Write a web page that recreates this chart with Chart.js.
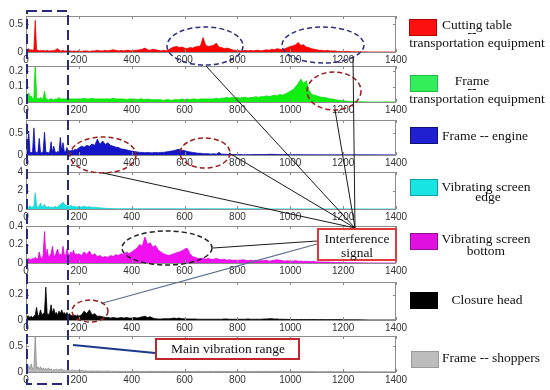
<!DOCTYPE html>
<html><head><meta charset="utf-8">
<script src="https://cdn.jsdelivr.net/npm/chart.js@4.4.0/dist/chart.umd.min.js"></script>
<style>
html,body{margin:0;padding:0;background:#fff;}
#wrap{position:relative;width:550px;height:390px;overflow:hidden;background:#fff;}
#wrap canvas{position:absolute;left:0;}
.t{position:absolute;font-family:'Liberation Serif','Times New Roman',serif;font-size:13.5px;color:#111;text-align:center;line-height:14px;white-space:nowrap;width:200px;}
.sw{position:absolute;box-sizing:border-box;}
.box{position:absolute;box-sizing:border-box;background:#fff;}
svg{position:absolute;left:0;top:0;}
</style>
</head><body>
<div id="wrap"></div>
<script>
// ---- frequency grid (Hz) ----
const freqLow = [0,5,10,15,20,25,30,35,40,45,50,55,60,65,70,75,80,85,90,95,100,105,110,115,120,125,130,135,140,145,150,155,160,165,170,175,180,185,190,195];
const freqHigh = [200,210,220,230,240,250,260,270,280,290,
 300,310,320,330,340,350,360,370,380,390,
 400,410,420,430,440,450,460,470,480,490,
 500,510,520,530,540,550,560,570,580,590,
 600,610,620,630,640,650,660,670,680,690,
 700,710,720,730,740,750,760,770,780,790,
 800,810,820,830,840,850,860,870,880,890,
 900,910,920,930,940,950,960,970,980,990,
 1000,1010,1020,1030,1040,1050,1060,1070,1080,1090,
 1100,1110,1120,1130,1140,1150,1160,1170,1180,1190,
 1200,1210,1220,1230,1240,1250,1300,1400];

const xTickValues = [0,200,400,600,800,1000,1200,1400];

// ---- series: Cutting table -- transportation equipment ----
const redLow = [0.05,0.04,0.06,0.03,0.04,0.03,0.05,0.57,0.04,0.03,
 0.02,0.03,0.02,0.03,0.02,0.02,0.03,0.02,0.02,0.02,
 0.03,0.02,0.03,0.05,0.06,0.03,0.02,0.02,0.03,0.02,
 0.02,0.02,0.01,0.02,0.02,0.01,0.02,0.02,0.01,0.02];
const redHigh = [0.02,0.01,0.02,0.02,0.01,0.02,0.02,0.03,0.02,0.02,
 0.03,0.02,0.03,0.04,0.03,0.02,0.03,0.02,0.03,0.03,
 0.02,0.03,0.03,0.04,0.05,0.07,0.04,0.03,0.05,0.04,
 0.03,0.02,0.03,0.02,0.04,0.07,0.09,0.1,0.08,0.09,
 0.07,0.06,0.08,0.07,0.09,0.1,0.11,0.26,0.12,0.1,
 0.11,0.12,0.16,0.09,0.08,0.06,0.07,0.06,0.04,0.03,
 0.03,0.02,0.02,0.03,0.02,0.03,0.02,0.03,0.03,0.02,
 0.03,0.04,0.03,0.05,0.04,0.06,0.05,0.04,0.06,0.08,
 0.1,0.11,0.13,0.17,0.12,0.13,0.09,0.08,0.06,0.05,
 0.04,0.03,0.03,0.02,0.03,0.02,0.02,0.02,0.01,0.01,
 0.01,0.01,0.01,0.005,0.005,0.003,0,0];

// ---- Frame -- transportation equipment ----
const greenLow = [0.06,0.04,0.06,0.03,0.04,0.02,0.03,0.25,0.03,0.02,
 0.02,0.03,0.02,0.02,0.07,0.02,0.02,0.01,0.02,0.02,
 0.02,0.01,0.02,0.02,0.02,0.03,0.02,0.02,0.02,0.02,
 0.02,0.02,0.03,0.02,0.02,0.02,0.02,0.02,0.02,0.02];
const greenHigh = [0.02,0.02,0.025,0.02,0.02,0.025,0.02,0.02,0.02,0.02,
 0.02,0.02,0.02,0.025,0.02,0.02,0.02,0.02,0.015,0.02,
 0.02,0.02,0.015,0.02,0.02,0.015,0.02,0.015,0.015,0.015,
 0.015,0.015,0.01,0.015,0.015,0.01,0.015,0.015,0.015,0.02,
 0.015,0.02,0.015,0.02,0.02,0.015,0.02,0.02,0.02,0.02,
 0.02,0.02,0.025,0.02,0.025,0.025,0.03,0.025,0.03,0.025,
 0.03,0.025,0.03,0.03,0.025,0.03,0.03,0.035,0.03,0.035,
 0.035,0.04,0.035,0.04,0.045,0.04,0.05,0.045,0.05,0.06,
 0.07,0.08,0.1,0.12,0.15,0.12,0.14,0.08,0.05,0.045,
 0.04,0.035,0.03,0.03,0.025,0.02,0.02,0.015,0.012,0.01,
 0.008,0.006,0.005,0.004,0.003,0.002,0,0];

// ---- Frame -- engine ----
const blueLow = [0.05,0.08,0.55,0.06,0.05,0.08,0.62,0.07,0.06,0.05,
 0.38,0.06,0.05,0.08,0.52,0.07,0.06,0.05,0.07,0.3,
 0.06,0.2,0.07,0.06,0.08,0.06,0.4,0.07,0.28,0.08,
 0.07,0.17,0.08,0.1,0.09,0.12,0.1,0.13,0.12,0.14];
const blueHigh = [0.16,0.2,0.18,0.22,0.2,0.25,0.22,0.36,0.24,0.32,
 0.24,0.28,0.22,0.2,0.18,0.17,0.14,0.13,0.12,0.1,
 0.09,0.08,0.07,0.06,0.06,0.05,0.06,0.05,0.05,0.06,
 0.05,0.06,0.06,0.07,0.08,0.09,0.1,0.12,0.13,0.11,
 0.1,0.08,0.07,0.06,0.05,0.04,0.04,0.03,0.03,0.03,
 0.02,0.03,0.02,0.06,0.02,0.02,0.015,0.015,0.01,0.01,
 0.01,0.01,0.008,0.008,0.008,0.008,0.01,0.01,0.01,0.01,
 0.012,0.012,0.015,0.015,0.015,0.012,0.012,0.01,0.01,0.01,
 0.008,0.008,0.008,0.008,0.008,0.006,0.006,0.006,0.006,0.006,
 0.005,0.005,0.005,0.005,0.005,0.005,0.005,0.005,0.005,0.005,
 0.004,0.004,0.004,0.004,0.004,0.004,0.003,0.002];

// ---- Vibrating screen edge ----
const cyanLow = [0.1,0.15,0.2,0.35,0.15,0.2,0.3,1.75,0.3,0.2,
 0.3,0.65,0.2,0.3,0.5,0.2,0.15,0.3,0.15,0.2,
 0.15,0.2,0.3,0.15,0.25,0.35,0.5,0.6,0.75,0.5,
 0.45,0.3,0.35,0.25,0.4,0.3,0.25,0.3,0.2,0.25];
const cyanHigh = [0.25,0.2,0.3,0.2,0.25,0.15,0.2,0.15,0.12,0.1,
 0.08,0.06,0.05,0.04,0.04,0.03,0.03,0.03,0.03,0.03,
 0.03,0.03,0.02,0.03,0.02,0.02,0.02,0.02,0.02,0.02,
 0.02,0.02,0.02,0.02,0.02,0.02,0.02,0.02,0.02,0.02,
 0.02,0.02,0.02,0.02,0.02,0.02,0.02,0.02,0.02,0.02,
 0.015,0.015,0.015,0.015,0.015,0.015,0.015,0.015,0.015,0.015,
 0.015,0.015,0.015,0.015,0.015,0.015,0.015,0.015,0.015,0.015,
 0.01,0.01,0.01,0.01,0.01,0.01,0.01,0.01,0.01,0.01,
 0.01,0.01,0.01,0.01,0.01,0.01,0.01,0.01,0.01,0.01,
 0.01,0.01,0.01,0.01,0.01,0.01,0.01,0.01,0.01,0.01,
 0.01,0.01,0.01,0.008,0.006,0.005,0,0];

// ---- Vibrating screen bottom ----
const magentaLow = [0.03,0.04,0.05,0.03,0.04,0.05,0.04,0.06,0.05,0.04,
 0.12,0.06,0.05,0.08,0.34,0.07,0.15,0.06,0.08,0.1,
 0.18,0.08,0.07,0.12,0.15,0.08,0.1,0.07,0.18,0.09,
 0.08,0.15,0.1,0.08,0.12,0.09,0.14,0.08,0.1,0.09];
const magentaHigh = [0.1,0.08,0.12,0.09,0.13,0.08,0.1,0.07,0.08,0.06,
 0.07,0.06,0.08,0.07,0.09,0.08,0.1,0.09,0.12,0.1,
 0.12,0.14,0.16,0.2,0.18,0.28,0.2,0.22,0.17,0.19,
 0.14,0.12,0.1,0.09,0.08,0.09,0.1,0.11,0.12,0.13,
 0.15,0.16,0.1,0.07,0.06,0.05,0.05,0.05,0.04,0.05,
 0.04,0.04,0.05,0.04,0.035,0.04,0.03,0.035,0.03,0.03,
 0.03,0.03,0.035,0.03,0.025,0.03,0.025,0.03,0.025,0.025,
 0.025,0.03,0.02,0.025,0.03,0.035,0.03,0.025,0.02,0.025,
 0.02,0.02,0.025,0.02,0.02,0.015,0.02,0.015,0.015,0.015,
 0.012,0.012,0.01,0.01,0.01,0.008,0.008,0.006,0.006,0.005,
 0.004,0.004,0.003,0.003,0.002,0.002,0,0];

// ---- Closure head ----
const blackLow = [0.02,0.03,0.03,0.02,0.03,0.02,0.03,0.04,0.1,0.03,
 0.04,0.08,0.04,0.05,0.06,0.26,0.05,0.04,0.06,0.12,
 0.05,0.09,0.05,0.06,0.04,0.07,0.05,0.08,0.05,0.06,
 0.04,0.06,0.04,0.05,0.03,0.04,0.03,0.04,0.03,0.04];
const blackHigh = [0.03,0.04,0.07,0.05,0.08,0.04,0.05,0.03,0.03,0.025,
 0.02,0.02,0.015,0.02,0.015,0.015,0.02,0.015,0.02,0.015,
 0.015,0.02,0.015,0.02,0.025,0.03,0.02,0.025,0.015,0.01,
 0.008,0.008,0.01,0.01,0.01,0.012,0.015,0.012,0.015,0.01,
 0.01,0.008,0.008,0.008,0.008,0.006,0.006,0.006,0.006,0.006,
 0.006,0.006,0.006,0.006,0.006,0.008,0.008,0.006,0.006,0.006,
 0.006,0.006,0.006,0.006,0.008,0.006,0.006,0.006,0.006,0.006,
 0.008,0.008,0.01,0.01,0.008,0.008,0.006,0.006,0.005,0.005,
 0.004,0.004,0.004,0.004,0.004,0.004,0.004,0.004,0.004,0.004,
 0.003,0.003,0.003,0.003,0.003,0.003,0.003,0.003,0.003,0.003,
 0.002,0.002,0.002,0.002,0.002,0.002,0,0];

// ---- Frame -- shoppers ----
const grayLow = [0.05,0.08,0.12,0.06,0.15,0.05,0.08,0.68,0.06,0.1,
 0.05,0.1,0.04,0.08,0.05,0.07,0.04,0.08,0.04,0.06,
 0.03,0.05,0.03,0.06,0.03,0.05,0.04,0.06,0.03,0.04,
 0.02,0.03,0.02,0.03,0.02,0.04,0.02,0.03,0.02,0.03];
const grayHigh = [0.02,0.03,0.02,0.02,0.015,0.02,0.015,0.02,0.015,0.015,
 0.015,0.02,0.01,0.015,0.01,0.012,0.01,0.012,0.01,0.01,
 0.01,0.012,0.01,0.01,0.012,0.01,0.01,0.012,0.01,0.01,
 0.01,0.01,0.012,0.01,0.01,0.01,0.012,0.01,0.01,0.01,
 0.01,0.012,0.01,0.01,0.01,0.012,0.01,0.01,0.01,0.01,
 0.01,0.01,0.012,0.01,0.01,0.01,0.01,0.012,0.01,0.01,
 0.01,0.01,0.01,0.012,0.01,0.01,0.01,0.01,0.012,0.01,
 0.01,0.012,0.01,0.01,0.01,0.01,0.012,0.01,0.01,0.01,
 0.008,0.008,0.008,0.008,0.008,0.008,0.008,0.008,0.008,0.008,
 0.006,0.006,0.006,0.006,0.006,0.006,0.006,0.006,0.006,0.006,
 0.005,0.005,0.005,0.005,0.005,0.005,0.004,0.003];

// ---- per-panel y axis ranges / ticks ----
const yMax = [0.65, 0.236, 0.8, 4, 0.4, 0.3, 0.69];
const yTicks = [[0,0.5],[0,0.1,0.2],[0,0.5],[0,2,4],[0,0.2,0.4],[0,0.2],[0,0.5]];
const seriesNames = ['Cutting table -- transportation equipment','Frame -- transportation equipment','Frame -- engine','Vibrating screen edge','Vibrating screen bottom','Closure head','Frame -- shoppers'];

const freq = freqLow.concat(freqHigh);
const series = [redLow.concat(redHigh), greenLow.concat(greenHigh), blueLow.concat(blueHigh), cyanLow.concat(cyanHigh), magentaLow.concat(magentaHigh), blackLow.concat(blackHigh), grayLow.concat(grayHigh)];

// layout / style (not data)
const GEOM = [{t:13,b:52},{t:63,b:102},{t:117,b:155},{t:169,b:209},{t:223,b:263},{t:279,b:320},{t:333,b:372}];
const FILL = ['#ff0000','#11ee11','#1414c8','#18e0e0','#f010f0','#000000','#b8b8b8'];
const LINE = ['#ee0000','#00dd00','#0a0ab0','#10d0d0','#e000e0','#000000','#8a8a8a'];

const framePlugin = {
  id:'frame',
  afterDatasetsDraw(chart){
    const {ctx, chartArea:a, scales} = chart;
    ctx.save();
    ctx.strokeStyle = '#8c8c8c'; ctx.lineWidth = 1;
    ctx.strokeRect(Math.round(a.left)+0.5, Math.round(a.top)+0.5, Math.round(a.right-a.left)-1, Math.round(a.bottom-a.top));
    ctx.beginPath();
    scales.x.ticks.forEach(t=>{
      const x = Math.round(scales.x.getPixelForValue(t.value))+0.5;
      ctx.moveTo(x,a.bottom); ctx.lineTo(x,a.bottom-3);
      ctx.moveTo(x,a.top); ctx.lineTo(x,a.top+3);
    });
    scales.y.ticks.forEach(t=>{
      const y = Math.round(scales.y.getPixelForValue(t.value))+0.5;
      ctx.moveTo(a.left,y); ctx.lineTo(a.left+3,y);
      ctx.moveTo(a.right,y); ctx.lineTo(a.right-3,y);
    });
    ctx.stroke();
    ctx.restore();
  }
};

const wrap = document.getElementById('wrap');
const tickFont = {family:"'Liberation Sans', Arial, sans-serif", size:10};

series.forEach((vals, i)=>{
  const g = GEOM[i];
  const c = document.createElement('canvas');
  const h = 6 + (g.b - g.t) + 14;
  c.width = 410; c.height = h;
  c.style.top = (g.t - 6) + 'px';
  c.style.width = '410px'; c.style.height = h + 'px';
  wrap.appendChild(c);
  new Chart(c, {
    type:'line',
    data:{datasets:[{
      label: seriesNames[i],
      data: freq.map((f,k)=>({x:f, y:vals[k]})),
      borderColor: LINE[i], backgroundColor: FILL[i],
      borderWidth: 0.8, fill:'origin', pointRadius:0, tension:0
    }]},
    options:{
      responsive:false, animation:false, devicePixelRatio:1,
      layout:{padding:{top:6,right:14,left:0,bottom:0}},
      plugins:{legend:{display:false}, tooltip:{enabled:false}},
      scales:{
        x:{type:'linear', min:0, max:1400,
          afterBuildTicks:s=>{ s.ticks = xTickValues.map(v=>({value:v})); },
          afterFit:s=>{ s.height = 14; },
          grid:{display:false, drawTicks:false}, border:{display:false},
          ticks:{padding:2, font:tickFont, color:'#333', maxRotation:0, autoSkip:false, callback:v=>String(v)}
        },
        y:{min:0, max:yMax[i],
          afterBuildTicks:s=>{ s.ticks = yTicks[i].map(v=>({value:v})); },
          afterFit:s=>{ s.width = 26; },
          grid:{display:false, drawTicks:false}, border:{display:false},
          ticks:{padding:3, font:tickFont, color:'#333', autoSkip:false, callback:v=>String(v)}
        }
      }
    },
    plugins:[framePlugin]
  });
});

// ---- overlay annotations ----
const NS = 'http://www.w3.org/2000/svg';
const svg = document.createElementNS(NS,'svg');
svg.setAttribute('width','550'); svg.setAttribute('height','390');
function el(tag, attrs){ const e=document.createElementNS(NS,tag); for(const k in attrs) e.setAttribute(k, attrs[k]); svg.appendChild(e); return e; }
// dashed main-range rectangle
el('rect',{x:27,y:11,width:41,height:373,fill:'none',stroke:'#262b7c','stroke-width':2,'stroke-dasharray':'10 5'});
// ellipses
const NAVY='#2a2f80', DRED='#9b1c1c', BLK='#222';
[[205,46,38,19,NAVY],[323,45,41,18,NAVY],[334,91,27,19,DRED],[103,155,33,18,DRED],[205,153,25,15,DRED],[167,248,45,17,BLK],[90,311,18,11,DRED]]
 .forEach(e=>el('ellipse',{cx:e[0],cy:e[1],rx:e[2],ry:e[3],fill:'none',stroke:e[4],'stroke-width':1.5,'stroke-dasharray':'5 3'}));
// leader lines
[[206,66,355,228],[353,57,355,228],[335,110,355,228],[229,153,355,228],[103,173,355,228],[213,248,317,241]]
 .forEach(l=>el('line',{x1:l[0],y1:l[1],x2:l[2],y2:l[3],stroke:'#1a1a1a','stroke-width':1}));
el('line',{x1:103,y1:303,x2:317,y2:244,stroke:'#5a6f8e','stroke-width':1.2});
el('line',{x1:73,y1:345,x2:155,y2:353,stroke:'#1c3a8c','stroke-width':2});
wrap.appendChild(svg);

function text(str, cx, cy){ const d=document.createElement('div'); d.className='t'; d.textContent=str; d.style.left=(cx-100)+'px'; d.style.top=(cy-7)+'px'; wrap.appendChild(d); }
function swatch(x,y,w,h,fill,border){ const d=document.createElement('div'); d.className='sw'; Object.assign(d.style,{left:x+'px',top:y+'px',width:w+'px',height:h+'px',background:fill,border:'1px solid '+border}); wrap.appendChild(d); }
function box(x,y,w,h,border){ const d=document.createElement('div'); d.className='box'; Object.assign(d.style,{left:x+'px',top:y+'px',width:w+'px',height:h+'px',border:'2px solid '+border}); wrap.appendChild(d); }

// legend
swatch(409,19,28,17,'#ff1010','#b00000');
text('Cutting table',477,25); text('--',472,33); text('transportation equipment',477,43);
swatch(410,75,28,17,'#33ee5a','#22bb44');
text('Frame',472,81); text('--',472,89); text('transportation equipment',477,99);
swatch(410,127,28,17,'#2020d0','#101070');
text('Frame -- engine',485,136);
swatch(410,179,28,17,'#18e4e4','#10a0a0');
text('Vibrating screen',486,187); text('edge',488,197);
swatch(410,233,28,17,'#e010e0','#901090');
text('Vibrating screen',486,239); text('bottom',486,251);
swatch(410,292,28,17,'#000','#000');
text('Closure head',487,300);
swatch(411,351,28,17,'#bdbdbd','#999');
text('Frame -- shoppers',491,358);

// annotation boxes
box(317,228,80,33,'#e23a3a');
text('Interference',357,239); text('signal',357,253);
box(155,338,145,22,'#c0262c');
text('Main vibration range',228,349);
</script>
</body></html>
